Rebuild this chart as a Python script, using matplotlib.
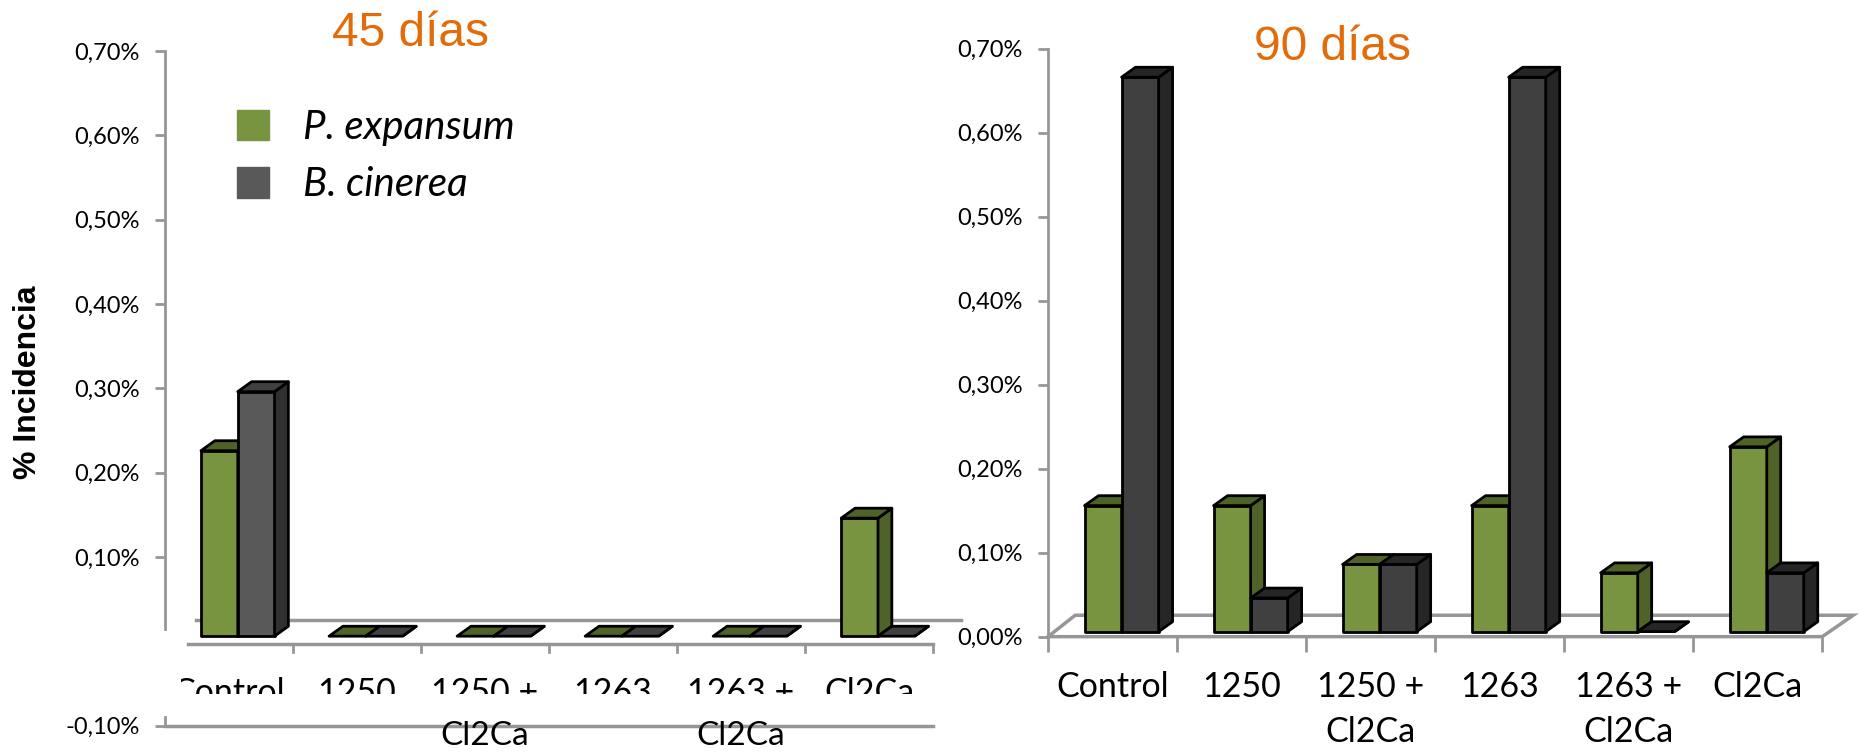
import numpy as np
import matplotlib
matplotlib.use("Agg")
import matplotlib.pyplot as plt
from matplotlib.patches import Polygon, Rectangle, Patch

categories = ["Control", "1250", "1250 +\nCl2Ca", "1263", "1263 +\nCl2Ca", "Cl2Ca"]
series_names = ["P. expansum", "B. cinerea"]
p_expansum_45 = [0.22, 0, 0, 0, 0, 0.14]
b_cinerea_45 = [0.29, 0, 0, 0, 0, 0]
p_expansum_90 = [0.15, 0.15, 0.08, 0.15, 0.07, 0.22]
b_cinerea_90 = [0.66, 0.04, 0.08, 0.66, 0, 0.07]
yticks_45 = [-0.1, 0.1, 0.2, 0.3, 0.4, 0.5, 0.6, 0.7]
yticks_90 = [0, 0.1, 0.2, 0.3, 0.4, 0.5, 0.6, 0.7]

GREEN = "#789440"
GREEN_D = "#4F6228"
GRAY_LINE = "#969696"
ORANGE = "#E36C0A"
FONT = "Lato"
W, H = 1859, 752
S = 1859 / 1568

plt.rcParams["font.family"] = FONT


def make_axes(x0, x1, ytop, ybot):
    return fig.add_axes([x0 * S / W, 1 - ybot * S / H, (x1 - x0) * S / W, (ybot - ytop) * S / H])


def draw_bars(ax, values, offset, front, top, side):
    # bar width and fake 3d depth in data units
    bw, dx, dy, base = 0.287, 0.108, 0.0118, 0.006
    for i, v in enumerate(values):
        x0 = i + 0.5 + 0.07 - bw + offset * bw
        x1 = x0 + bw
        y1 = base + v
        ec = dict(edgecolor="black", linewidth=2, joinstyle="round", clip_on=False)
        if v > 0:
            ax.bar(x0, v, bw, bottom=base, align="edge", color=front, **ec)
        ax.add_patch(Polygon([(x1, base), (x1 + dx, base + dy), (x1 + dx, y1 + dy), (x1, y1)], facecolor=side, **ec))
        ax.add_patch(Polygon([(x0, y1), (x0 + dx, y1 + dy), (x1 + dx, y1 + dy), (x1, y1)], facecolor=top, **ec))


def pct(v):
    return ("%.2f%%" % (v)).replace(".", ",")


fig = plt.figure(figsize=(W / 100, H / 100), dpi=100)

# 45 dias
ax1 = make_axes(139, 787, 43, 612)
ax1.set_xlim(0, 6)
ax1.set_ylim(-0.1, 0.7)
for s in ["top", "right", "bottom"]:
    ax1.spines[s].set_visible(False)
ax1.spines["left"].set_color(GRAY_LINE)
ax1.spines["left"].set_linewidth(2)
ax1.spines["left"].set_bounds(0.015, 0.7)
ax1.set_yticks(yticks_45)
ax1.set_yticklabels([pct(v) for v in yticks_45], fontsize=17)
ax1.tick_params(axis="y", length=7, color=GRAY_LINE, width=2, pad=11)
ax1.set_xticks([])
ax1.plot([0, 0], [-0.1, -0.09], color=GRAY_LINE, lw=2, clip_on=False)
ax1.plot([0, 6], [-0.1, -0.1], color=GRAY_LINE, lw=2.5, clip_on=False)
ax1.plot([0.24, 6.22], [0.025, 0.025], color=GRAY_LINE, lw=2.5, clip_on=False, zorder=1)
ax1.plot([0.18, 6], [-0.003, -0.003], color=GRAY_LINE, lw=2.5, clip_on=False, zorder=1)
for i in range(1, 7):
    ax1.plot([i, i], [-0.003, -0.013], color=GRAY_LINE, lw=2, clip_on=False, zorder=1)
draw_bars(ax1, p_expansum_45, 0, GREEN, GREEN_D, GREEN_D)
draw_bars(ax1, b_cinerea_45, 1, "#595959", "#404040", "#303030")
for i, c in enumerate(categories):
    lines = c.split("\n")
    ax1.text(i + 0.5, -0.042, lines[0], ha="center", va="top", fontsize=24.5, zorder=3)
    # second line sits below the white box, so it stays whole
    if len(lines) > 1:
        ax1.text(i + 0.5, -0.094, lines[1], ha="center", va="top", fontsize=24, zorder=5, clip_on=False)
# the source picture has these labels cut off by a white box
ax1.add_patch(Rectangle((0.0, -0.0845), 6.0, 0.0225, facecolor="white", edgecolor="none", zorder=4, clip_on=False))
ax1.add_patch(Rectangle((0, -0.062), 0.13, 0.045, facecolor="white", edgecolor="none", zorder=4, clip_on=False))
ax1.legend(
    handles=[Patch(color=GREEN), Patch(color="#595959")], labels=series_names,
    loc="upper left", bbox_to_anchor=(61 / 648, 1 - 49 / 569), frameon=False, borderpad=0, borderaxespad=0,
    handlelength=0.78, handleheight=0.8, handletextpad=0.85, labelspacing=0.5,
    prop={"style": "italic", "size": 29, "family": FONT},
)
fig.text(346 * S / W, 1 - 28 * S / H, "45 días", color=ORANGE, fontsize=34.5, family="Liberation Sans", ha="center", va="center")
fig.text(24 * S / W, 1 - 322 * S / H, "% Incidencia", fontsize=23, family="Liberation Sans", weight="bold", rotation=90, ha="center", va="center")

# 90 dias
ax2 = make_axes(884, 1537, 41, 537)
ax2.set_xlim(0, 6)
ax2.set_ylim(0, 0.7)
for s in ["top", "right", "bottom"]:
    ax2.spines[s].set_visible(False)
ax2.spines["left"].set_color(GRAY_LINE)
ax2.spines["left"].set_linewidth(2)
ax2.set_yticks(yticks_90)
ax2.set_yticklabels([pct(v) for v in yticks_90], fontsize=17)
ax2.tick_params(axis="y", length=7, color=GRAY_LINE, width=2, pad=11)
ax2.set_xticks(range(7))
ax2.set_xticklabels([])
ax2.tick_params(axis="x", length=11, color=GRAY_LINE, width=2)
ax2.add_patch(Polygon([(0, 0), (0.21, 0.0255), (6.24, 0.0255), (6, 0)], facecolor="white", edgecolor=GRAY_LINE, linewidth=2.5, clip_on=False, zorder=1))
draw_bars(ax2, p_expansum_90, 0, GREEN, GREEN_D, GREEN_D)
draw_bars(ax2, b_cinerea_90, 1, "#404040", "#262626", "#262626")
for i, c in enumerate(categories):
    ax2.text(i + 0.5, -0.041, c, ha="center", va="top", fontsize=24.5, linespacing=1.5, clip_on=False)
fig.text(1124 * S / W, 1 - 40 * S / H, "90 días", color=ORANGE, fontsize=34.5, family="Liberation Sans", ha="center", va="center")

fig.savefig("out.png", dpi=100)
